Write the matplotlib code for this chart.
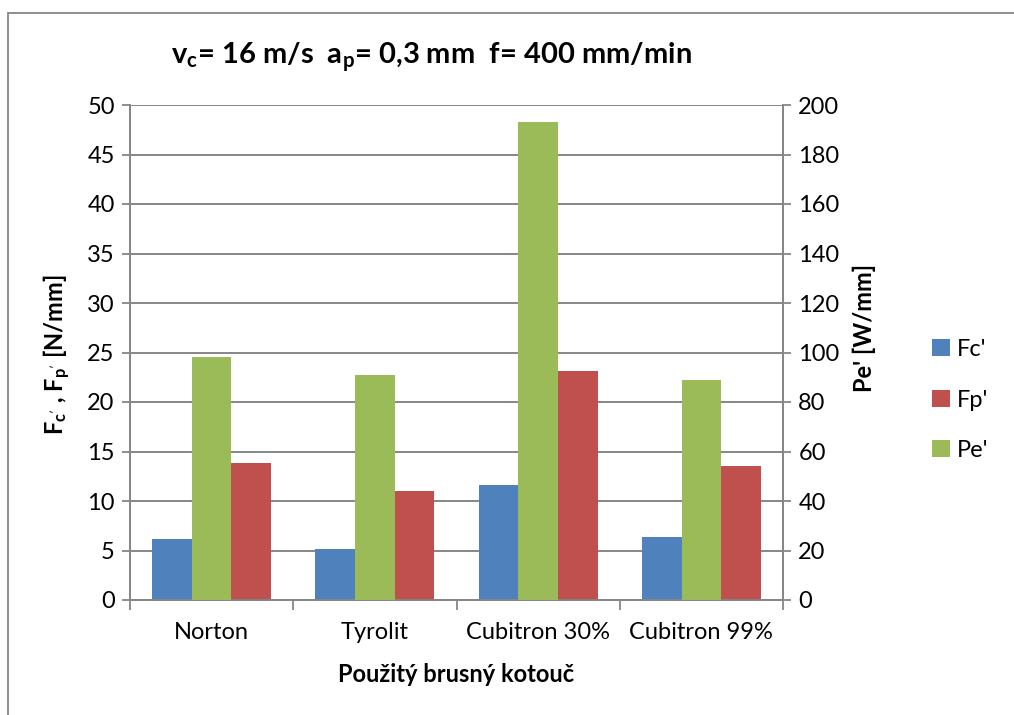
import matplotlib
matplotlib.use("Agg")
import matplotlib.pyplot as plt
import numpy as np
from matplotlib.patches import Rectangle

plt.rcParams['font.family'] = ['Lato', 'DejaVu Sans']
plt.rcParams['mathtext.fontset'] = 'custom'
plt.rcParams['mathtext.rm'] = 'Lato'
plt.rcParams['mathtext.bf'] = 'Lato:bold'
plt.rcParams['mathtext.it'] = 'Lato:italic'

# Grinding wheels and measured values
categories = ["Norton", "Tyrolit", "Cubitron 30%", "Cubitron 99%"]
fc = [6.2, 5.2, 11.6, 6.4]       # Fc' [N/mm]
fp = [13.8, 11.0, 23.1, 13.5]    # Fp' [N/mm]
pe = [98.0, 91.0, 193.0, 89.0]   # Pe' [W/mm]

left_ticks = [0, 5, 10, 15, 20, 25, 30, 35, 40, 45, 50]
right_ticks = [0, 20, 40, 60, 80, 100, 120, 140, 160, 180, 200]

c_fc = "#4F81BD"
c_fp = "#C0504D"
c_pe = "#9BBB59"
grey = "#868686"

fig = plt.figure(figsize=(10.14, 7.15), dpi=100)
ax = fig.add_axes([130/1014, 1-600/715, (783-130)/1014, (600-105)/715])
ax2 = ax.twinx()

x = np.arange(len(categories))
w = 0.243

b1 = ax.bar(x - w, fc, w, color=c_fc, label="Fc'", zorder=3)
b2 = ax.bar(x + w, fp, w, color=c_fp, label="Fp'", zorder=3)
b3 = ax2.bar(x, pe, w, color=c_pe, label="Pe'", zorder=3)

ax.set_xlim(-0.5, len(categories) - 0.5)
ax.set_ylim(0, 50)
ax2.set_ylim(0, 200)
ax.set_yticks(left_ticks)
ax2.set_yticks(right_ticks)

ax.set_xticks(x)
ax.set_xticklabels(categories, fontsize=17)
ax.tick_params(axis='x', length=0, pad=16)
ax.set_xticks(np.arange(-0.5, len(categories)), minor=True)
ax.tick_params(axis='x', which='minor', length=7, color=grey, width=1.3, direction='out')

ax.tick_params(axis='y', labelsize=17, length=6, color=grey, width=1.3, pad=5)
ax2.tick_params(axis='y', labelsize=17, length=6, color=grey, width=1.3, pad=5)

ax.yaxis.grid(True, color=grey, linewidth=1.4, zorder=0)
ax.set_axisbelow(True)

for a in (ax, ax2):
    for s in a.spines.values():
        s.set_color(grey)
        s.set_linewidth(1.3)
    a.spines['top'].set_visible(False)

ax.set_ylabel(r"F$_{\mathbf{c}'}$ , F$_{\mathbf{p}'}$ [N/mm]", fontsize=17, fontweight='bold')
ax.yaxis.set_label_coords(-0.089, 0.495)
ax2.set_ylabel("Pe' [W/mm]", fontsize=17, fontweight='bold')
ax2.yaxis.set_label_coords(1.106, 0.55)
ax.set_xlabel("Použitý brusný kotouč", fontsize=17, fontweight='bold')
ax.xaxis.set_label_coords(0.5, -0.127)

fig.text(431/1014, 1-57/715, r"v$_\mathbf{c}$= 16 m/s  a$_\mathbf{p}$= 0,3 mm  f= 400 mm/min",
         fontsize=21, fontweight='bold', ha='center', va='center')

fig.legend(handles=[b1, b2, b3], labels=["Fc'", "Fp'", "Pe'"],
           loc='center left', bbox_to_anchor=(932/1014, 1-400/715),
           frameon=False, fontsize=17, handlelength=0.75, handleheight=0.75,
           handletextpad=0.3, labelspacing=1.25, borderaxespad=0, borderpad=0)

# outer chart frame
fig.patches.append(Rectangle((8/1014, -0.1), 1.2, 1-13/715 + 0.1, transform=fig.transFigure,
                             fill=False, edgecolor=grey, linewidth=1.3))

fig.savefig("out.png", dpi=100)
